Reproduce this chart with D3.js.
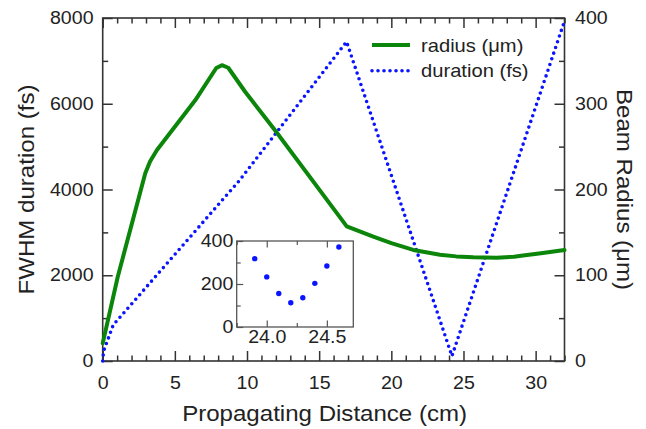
<!DOCTYPE html>
<html>
<head>
<meta charset="utf-8">
<script src="https://cdn.jsdelivr.net/npm/d3@7"></script>
<style>
  html, body { margin: 0; padding: 0; background: #fff; }
  svg { display: block; }
  text { font-family: "Liberation Sans", Arial, sans-serif; fill: #222; }
</style>
</head>
<body>
<svg id="chart" width="646" height="429"></svg>
<script>
// ---- Data ----
const radiusDist = [0, 1.04, 2.95, 3.29, 3.76, 6.41, 7.87, 8.26, 8.7, 9.87, 11.94, 16.91, 18.75, 20.0, 21.52, 22.5, 23.37, 24.5, 25.68, 27.3, 28.5, 29.13, 30.5, 32];
const radiusVals = [20.6, 98, 219, 233, 246, 304, 341.7, 345, 342, 314, 269, 157, 145, 137.5, 129.5, 126.5, 124, 122, 121, 120.5, 121.5, 123, 126, 129.5];
const durationDist = [0, 0.06, 0.73, 9.5, 16.9, 24.2, 32];
const durationVals = [0, 230, 840, 4220, 7446, 115, 7930];
const insetDist = [23.9, 24.0, 24.1, 24.2, 24.3, 24.4, 24.5, 24.6];
const insetDur = [318, 233, 156, 113, 136, 203, 284, 372];
const xMajorTicks = [0, 5, 10, 15, 20, 25, 30];
const yLeftTicks = [0, 2000, 4000, 6000, 8000];
const yRightTicks = [0, 100, 200, 300, 400];
const insetXTicks = [24.0, 24.5];
const insetYTicks = [0, 200, 400];
const legendLabels = ["radius (\u03bcm)", "duration (fs)"];

const SX = 1.12;              // horizontal stretch of the reference text
const GREEN = "#0b860b", BLUE = "#0a14ff", AXIS = "#333";
const DOTS = "0,6";

const svg = d3.select("#chart");
const L = 102.7, R = 564.5, T = 18, B = 361;

const x = d3.scaleLinear([0, 32], [L, R]);
const yL = d3.scaleLinear([0, 8000], [B, T]);
const yR = d3.scaleLinear([0, 400], [B, T]);

function styleAxis(g) {
  g.select(".domain").remove();
  g.selectAll(".tick line").attr("stroke", AXIS).attr("stroke-width", 1.5);
  g.selectAll(".tick text").attr("font-size", 17.5).attr("fill", "#222")
    .attr("transform", `scale(${SX},1)`);
}

// minor ticks
const minorX = d3.range(0, 33, 1).filter(v => v % 5 !== 0);
svg.append("g").attr("transform", `translate(0,${B})`)
  .call(d3.axisBottom(x).tickValues(minorX).tickSizeInner(-5.5).tickSizeOuter(0).tickFormat(""))
  .call(styleAxis);
svg.append("g").attr("transform", `translate(0,${T})`)
  .call(d3.axisTop(x).tickValues(minorX).tickSizeInner(-5.5).tickSizeOuter(0).tickFormat(""))
  .call(styleAxis);
svg.append("g").attr("transform", `translate(${L},0)`)
  .call(d3.axisLeft(yL).tickValues([1000, 3000, 5000, 7000]).tickSizeInner(-5.5).tickSizeOuter(0).tickFormat(""))
  .call(styleAxis);
svg.append("g").attr("transform", `translate(${R},0)`)
  .call(d3.axisRight(yR).tickValues([50, 150, 250, 350]).tickSizeInner(-5.5).tickSizeOuter(0).tickFormat(""))
  .call(styleAxis);

// major ticks
svg.append("g").attr("transform", `translate(0,${B})`)
  .call(d3.axisBottom(x).tickValues(xMajorTicks).tickSizeInner(-10).tickSizeOuter(0).tickPadding(16).tickFormat(d3.format("d")))
  .call(styleAxis);
svg.append("g").attr("transform", `translate(0,${T})`)
  .call(d3.axisTop(x).tickValues(xMajorTicks).tickSizeInner(-10).tickSizeOuter(0).tickFormat(""))
  .call(styleAxis);
svg.append("g").attr("transform", `translate(${L},0)`)
  .call(d3.axisLeft(yL).tickValues(yLeftTicks).tickSizeInner(-10).tickSizeOuter(0).tickPadding(8.2).tickFormat(d3.format("d")))
  .call(styleAxis);
svg.append("g").attr("transform", `translate(${R},0)`)
  .call(d3.axisRight(yR).tickValues(yRightTicks).tickSizeInner(-10).tickSizeOuter(0).tickPadding(9.4).tickFormat(d3.format("d")))
  .call(styleAxis);

// frame
svg.append("rect").attr("x", L).attr("y", T).attr("width", R - L).attr("height", B - T)
  .attr("fill", "none").attr("stroke", AXIS).attr("stroke-width", 1.6);

// ---- series ----
const durLine = d3.line().x(d => x(d[0])).y(d => yL(d[1]));
svg.append("path").datum(durationDist.map((d, i) => [d, durationVals[i]]))
  .attr("d", durLine).attr("fill", "none").attr("stroke", BLUE)
  .attr("stroke-width", 3.6).attr("stroke-linecap", "round").attr("stroke-dasharray", DOTS);

const radLine = d3.line().x(d => x(d[0])).y(d => yR(d[1])).curve(d3.curveLinear);
svg.append("path").datum(radiusDist.map((d, i) => [d, radiusVals[i]]))
  .attr("d", radLine).attr("fill", "none").attr("stroke", GREEN)
  .attr("stroke-width", 4).attr("stroke-linejoin", "round").attr("stroke-linecap", "round");

// ---- legend ----
const lg = svg.append("g");
lg.append("line").attr("x1", 372).attr("x2", 410).attr("y1", 45).attr("y2", 45)
  .attr("stroke", GREEN).attr("stroke-width", 4);
lg.append("line").attr("x1", 372).attr("x2", 410).attr("y1", 70.7).attr("y2", 70.7)
  .attr("stroke", BLUE).attr("stroke-width", 3.6).attr("stroke-linecap", "round").attr("stroke-dasharray", DOTS);
[51.5, 77].forEach((yy, i) => {
  lg.append("text").attr("transform", `translate(421,${yy}) scale(${SX},1)`)
    .attr("font-size", 18).text(legendLabels[i]);
});

// ---- axis titles ----
svg.append("text").attr("transform", `translate(${(L + R) / 2 - 9},421) scale(${SX},1)`)
  .attr("text-anchor", "middle").attr("font-size", 21.5).text("Propagating Distance (cm)");
svg.append("text").attr("transform", `translate(34,${(T + B) / 2}) rotate(-90) scale(${SX},1)`)
  .attr("text-anchor", "middle").attr("font-size", 21.5).text("FWHM duration (fs)");
svg.append("text").attr("transform", `translate(617,${(T + B) / 2}) rotate(90) scale(${SX},1)`)
  .attr("text-anchor", "middle").attr("font-size", 21.5).text("Beam Radius (\u03bcm)");

// ---- inset ----
const iL = 236.7, iR = 353.3, iT = 241, iB = 327;
const xi = d3.scaleLinear([23.75, 24.72], [iL, iR]);
const yi = d3.scaleLinear([0, 400], [iB, iT]);
const ig = svg.append("g");
ig.append("rect").attr("x", iL).attr("y", iT).attr("width", iR - iL).attr("height", iB - iT)
  .attr("fill", "#fff").attr("stroke", "#555").attr("stroke-width", 1.3);
function styleInset(g) {
  g.select(".domain").remove();
  g.selectAll(".tick line").attr("stroke", "#555").attr("stroke-width", 1.2);
  g.selectAll(".tick text").attr("font-size", 17.5).attr("fill", "#222")
    .attr("transform", `scale(${SX},1)`);
}
ig.append("g").attr("transform", `translate(0,${iB})`)
  .call(d3.axisBottom(xi).tickValues([23.75, 24.25]).tickSizeInner(-4).tickSizeOuter(0).tickFormat(""))
  .call(styleInset);
ig.append("g").attr("transform", `translate(0,${iT})`)
  .call(d3.axisTop(xi).tickValues([23.75, 24.25]).tickSizeInner(-4).tickSizeOuter(0).tickFormat(""))
  .call(styleInset);
ig.append("g").attr("transform", `translate(${iL},0)`)
  .call(d3.axisLeft(yi).tickValues([100, 300]).tickSizeInner(-4).tickSizeOuter(0).tickFormat(""))
  .call(styleInset);
ig.append("g").attr("transform", `translate(0,${iB})`)
  .call(d3.axisBottom(xi).tickValues(insetXTicks).tickSizeInner(-6.5).tickSizeOuter(0).tickPadding(3.6).tickFormat(d3.format(".1f")))
  .call(styleInset);
ig.append("g").attr("transform", `translate(0,${iT})`)
  .call(d3.axisTop(xi).tickValues(insetXTicks).tickSizeInner(-6.5).tickSizeOuter(0).tickFormat(""))
  .call(styleInset);
ig.append("g").attr("transform", `translate(${iL},0)`)
  .call(d3.axisLeft(yi).tickValues(insetYTicks).tickSizeInner(-6.5).tickSizeOuter(0).tickPadding(3).tickFormat(d3.format("d")))
  .call(styleInset);
ig.selectAll("circle.pt").data(insetDist.map((d, i) => [d, insetDur[i]])).join("circle")
  .attr("class", "pt").attr("cx", d => xi(d[0])).attr("cy", d => yi(d[1]))
  .attr("r", 2.7).attr("fill", BLUE);
</script>
</body>
</html>
